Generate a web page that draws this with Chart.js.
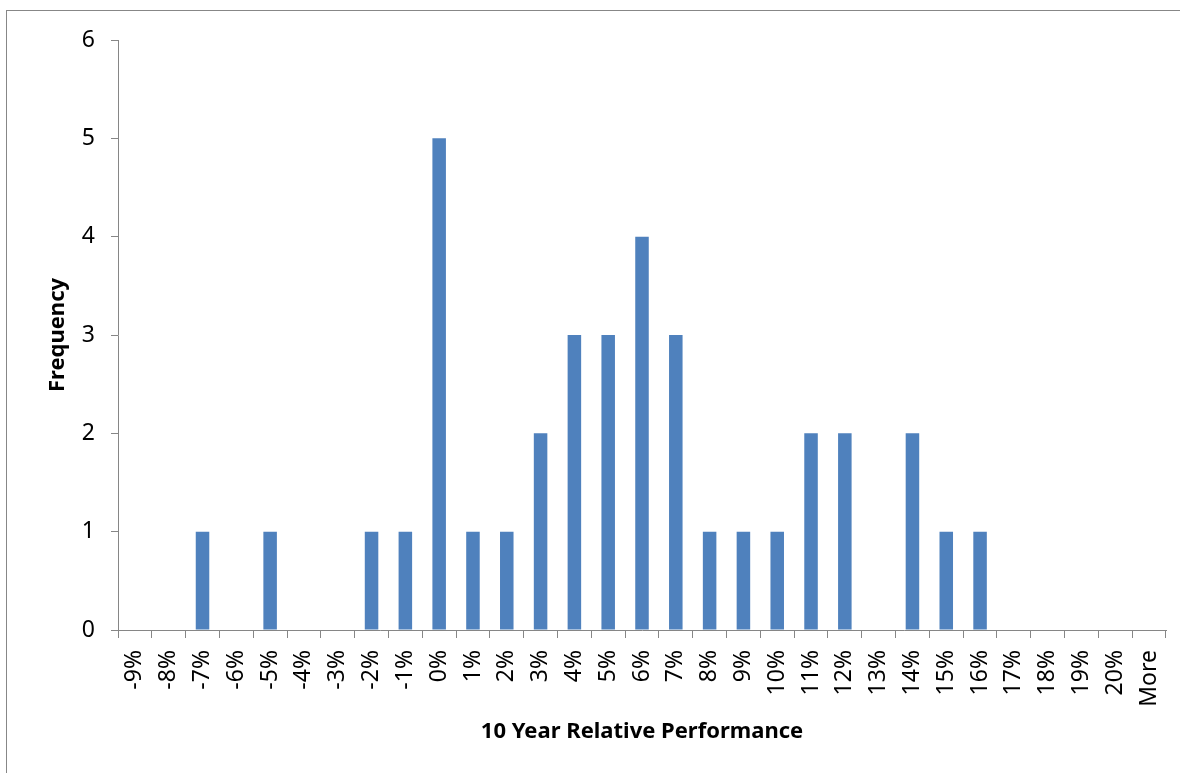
<!DOCTYPE html>
<html>
<head>
<meta charset="utf-8">
<script src="https://cdn.jsdelivr.net/npm/chart.js@4"></script>
<style>
    html, body { margin: 0; padding: 0; background: #fff; overflow: hidden; }
    .frame {
        position: absolute; left: 6px; top: 10px;
        width: 1300px; height: 900px;
        border: 1px solid #878787;
    }
    .wrap { position: absolute; left: 0; top: 0; width: 1180px; height: 773px; }
</style>
</head>
<body>
<div class="frame"></div>
<div class="wrap"><canvas id="histChart"></canvas></div>
<script>
// Histogram bins and counts
const bins = ['-9%', '-8%', '-7%', '-6%', '-5%', '-4%', '-3%', '-2%', '-1%', '0%',
    '1%', '2%', '3%', '4%', '5%', '6%', '7%', '8%', '9%', '10%',
    '11%', '12%', '13%', '14%', '15%', '16%', '17%', '18%', '19%', '20%', 'More'];
const frequency = [0, 0, 1, 0, 1, 0, 0, 1, 1, 5,
    1, 1, 2, 3, 3, 4, 3, 1, 1, 1,
    2, 2, 0, 2, 1, 1, 0, 0, 0, 0, 0];
const yTicks = [0, 1, 2, 3, 4, 5, 6];

const axisGray = '#868686';
const fontFamily = "'Noto Sans', 'Open Sans', sans-serif";

const ctx = document.getElementById('histChart').getContext('2d');

new Chart(ctx, {
    type: 'bar',
    data: {
        labels: bins,
        datasets: [{
            label: 'Frequency',
            data: frequency,
            backgroundColor: '#4F81BD',
            borderWidth: 0,
            barPercentage: 0.4,
            categoryPercentage: 1
        }]
    },
    options: {
        responsive: true,
        maintainAspectRatio: false,
        animation: false,
        layout: { padding: { top: 40, right: 14, bottom: 0, left: 0 } },
        plugins: {
            legend: { display: false },
            tooltip: { enabled: false }
        },
        scales: {
            x: {
                offset: true,
                grid: {
                    offset: true,
                    drawOnChartArea: false,
                    drawTicks: true,
                    tickLength: 8,
                    color: axisGray
                },
                border: { color: axisGray, width: 1 },
                ticks: {
                    minRotation: 90,
                    maxRotation: 90,
                    autoSkip: false,
                    padding: 12,
                    color: '#000',
                    font: { family: fontFamily, size: 23 }
                },
                title: {
                    display: true,
                    text: '10 Year Relative Performance',
                    color: '#000',
                    font: { family: fontFamily, size: 22, weight: 'bold' },
                    padding: { top: 0, bottom: 28 }
                },
                afterFit: (scale) => {
                    scale.height = 143;
                    // rotated labels fit inside their slots, no side padding needed
                    scale.paddingLeft = 0;
                    scale.paddingRight = 0;
                }
            },
            y: {
                min: 0,
                max: 6,
                afterBuildTicks: (scale) => { scale.ticks = yTicks.map(v => ({ value: v })); },
                grid: {
                    drawOnChartArea: false,
                    drawTicks: true,
                    tickLength: 7,
                    color: axisGray
                },
                border: { color: axisGray, width: 1 },
                ticks: {
                    padding: 16,
                    color: '#000',
                    font: { family: fontFamily, size: 23 }
                },
                title: {
                    display: true,
                    text: 'Frequency',
                    color: '#000',
                    font: { family: fontFamily, size: 22, weight: 'bold' },
                    padding: { top: 45, bottom: 0 }
                },
                afterFit: (scale) => { scale.width = 118; }
            }
        }
    }
});
</script>
</body>
</html>
